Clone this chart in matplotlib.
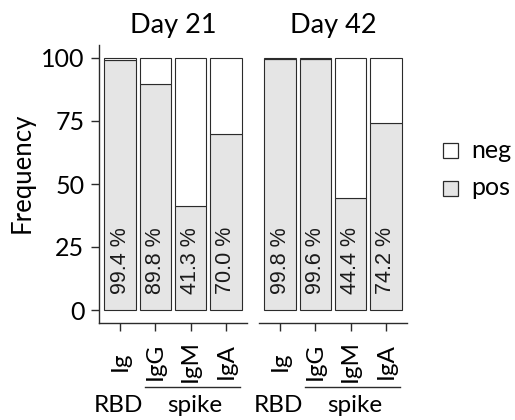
import matplotlib
matplotlib.use("Agg")
import matplotlib.pyplot as plt
from matplotlib.patches import Rectangle
from matplotlib.transforms import blended_transform_factory

# ---- data ----
antigens = ["Ig", "IgG", "IgM", "IgA"]
panels = ["Day 21", "Day 42"]
pos_day21 = [99.4, 89.8, 41.3, 70.0]
pos_day42 = [99.8, 99.6, 44.4, 74.2]
pos_values = [pos_day21, pos_day42]
legend_labels = ["neg", "pos"]
yticks = [0, 25, 50, 75, 100]
group_labels = ["RBD", "spike"]

W, H = 515, 420
FONT = "Lato"
LABFONT = "Liberation Sans"
EDGE = "#2b2b2b"
POSC = "#E5E5E5"
NEGC = "#FFFFFF"

fig = plt.figure(figsize=(W / 100, H / 100), dpi=100)

def fx(px):
    return px / W

def fy(py):
    return 1 - py / H

ax_left = [99, 259]
ax_w = 148
ax_top, ax_bot = 45.4, 322.6

for i, (title, vals) in enumerate(zip(panels, pos_values)):
    ax = fig.add_axes([fx(ax_left[i]), fy(ax_bot), ax_w / W, (ax_bot - ax_top) / H])
    x = list(range(1, len(antigens) + 1))
    neg = [100 - v for v in vals]
    ax.bar(x, vals, width=0.9, color=POSC, edgecolor=EDGE, linewidth=0.8)
    ax.bar(x, neg, width=0.9, bottom=vals, color=NEGC, edgecolor=EDGE, linewidth=0.8)
    for xi, v in zip(x, vals):
        ax.text(xi, 6.3, f"{v:.1f} %", rotation=90, ha="center", va="bottom",
                fontsize=15.5, family=LABFONT, color="#1a1a1a")
    ax.set_xlim(0.4, 4.6)
    ax.set_ylim(-5, 105)
    for s in ["top", "right"]:
        ax.spines[s].set_visible(False)
    ax.spines["bottom"].set_color(EDGE)
    ax.spines["bottom"].set_linewidth(1.0)
    ax.set_xticks(x)
    ax.set_xticklabels(antigens, rotation=90, fontsize=17.5, family=FONT)
    ax.tick_params(axis="x", length=5.5, width=1.0, color=EDGE, pad=22.3)
    for lab in ax.get_xticklabels():
        lab.set_va("center")
    if i == 0:
        ax.spines["left"].set_color(EDGE)
        ax.spines["left"].set_linewidth(1.0)
        ax.set_yticks(yticks)
        ax.set_yticklabels([str(t) for t in yticks], fontsize=18, family=FONT)
        ax.tick_params(axis="y", length=5.5, width=1.0, color=EDGE, pad=5)
        ax.set_ylabel("Frequency", fontsize=18.5, family=FONT)
        ax.yaxis.set_label_coords(-0.52, 0.54)
        ax.yaxis.label.set_va("center")
    else:
        ax.spines["left"].set_visible(False)
        ax.set_yticks([])
    ax.set_title(title, fontsize=19.5, family=FONT, pad=8.8)

    tr = blended_transform_factory(ax.transData, fig.transFigure)
    ax.text(0.96, fy(405), group_labels[0], transform=tr, ha="center", va="center",
            fontsize=17.5, family=FONT)
    ax.text(3.13, fy(405), group_labels[1], transform=tr, ha="center", va="center",
            fontsize=17.5, family=FONT)
    ax.plot([1.7, 4.4], [fy(387), fy(387)], transform=tr, color=EDGE, lw=1.0,
            clip_on=False)

# legend (manual keys)
sq = 15
for lab, col, yc in zip(legend_labels, [NEGC, POSC], [150, 188]):
    fig.patches.append(Rectangle((fx(443), fy(yc + sq / 2)), sq / W, sq / H,
                                 transform=fig.transFigure, facecolor=col,
                                 edgecolor=EDGE, linewidth=0.9))
    fig.text(fx(471), fy(yc), lab, ha="left", va="center", fontsize=18, family=FONT)

fig.savefig("out.png", dpi=100)
